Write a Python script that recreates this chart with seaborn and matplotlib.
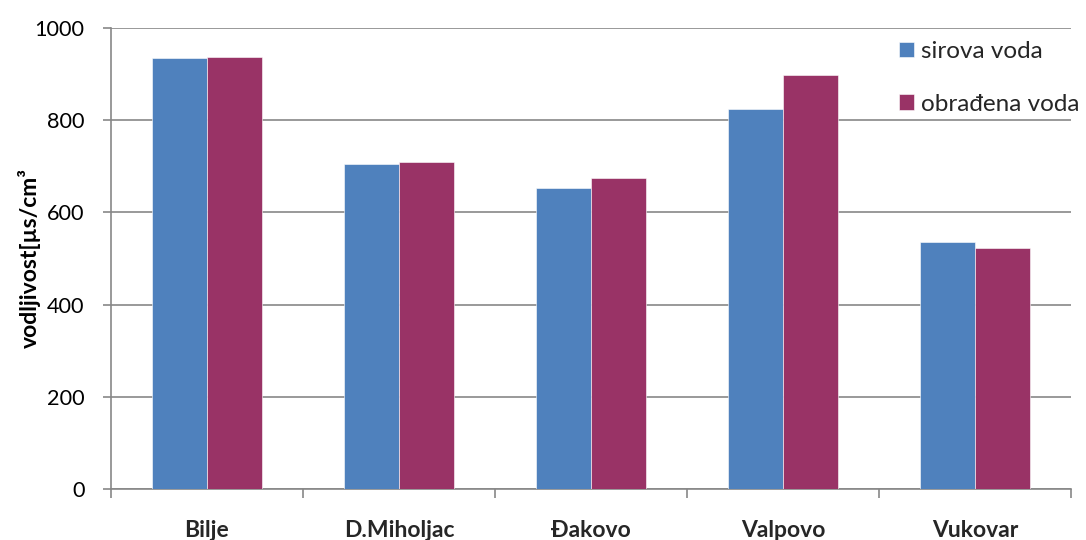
import matplotlib
matplotlib.use("Agg")
import matplotlib.pyplot as plt
import seaborn as sns
import pandas as pd
from matplotlib.ticker import FixedLocator

categories = ["Bilje", "D.Miholjac", "Đakovo", "Valpovo", "Vukovar"]
sirova = [936, 706, 654, 825, 535]
obradjena = [938, 709, 675, 899, 522]
series_names = ["sirova voda", "obrađena voda"]
y_ticks = [0, 200, 400, 600, 800, 1000]
y_label = "vodljivost[µs/cm³"

df = pd.DataFrame({
    "mjesto": categories * 2,
    "vrijednost": sirova + obradjena,
    "serija": [series_names[0]] * len(categories) + [series_names[1]] * len(categories),
})

sns.set_theme(style="white")
plt.rcParams["font.family"] = ["Lato", "DejaVu Sans"]

fig = plt.figure(figsize=(10.86, 5.40), dpi=100)
ax = fig.add_axes([111/1086, 1-489/540, (1071-111)/1086, (489-28)/540])

grid_c = "#878787"
palette = {series_names[0]: "#4F81BD", series_names[1]: "#993366"}
sns.barplot(data=df, x="mjesto", y="vrijednost", hue="serija", order=categories,
            hue_order=series_names, palette=palette, width=0.573, gap=0,
            saturation=1, edgecolor="white", linewidth=0.4, ax=ax, zorder=3)

ax.set_xlim(-0.5, len(categories) - 0.5)
ax.set_ylim(0, 1000)
ax.set_yticks(y_ticks)
ax.yaxis.grid(True, color=grid_c, linewidth=1.2, zorder=0)
ax.set_axisbelow(True)

for s in ["top", "right"]:
    ax.spines[s].set_visible(False)
for s in ["left", "bottom"]:
    ax.spines[s].set_color(grid_c)
    ax.spines[s].set_linewidth(1.2)

ax.tick_params(axis="y", direction="out", length=6, width=1.2, color=grid_c,
               labelsize=15.6, pad=13, left=True, labelcolor="black")
ax.tick_params(axis="x", which="major", length=0, labelsize=16.5, pad=22)
ax.xaxis.set_minor_locator(FixedLocator([i - 0.5 for i in range(len(categories) + 1)]))
ax.tick_params(axis="x", which="minor", direction="out", length=6.5, width=1.2,
               color=grid_c, bottom=True)
for lbl in ax.get_xticklabels():
    lbl.set_fontweight("bold")

ax.set_xlabel("")
ax.set_ylabel(y_label, fontsize=16.5, fontweight="bold", color="black")
ax.yaxis.set_label_coords(-0.073, 0.5)

handles, labels = ax.get_legend_handles_labels()
ax.legend(handles, labels, loc="upper left", bbox_to_anchor=(899/1086, 1-41/540),
          bbox_transform=fig.transFigure, frameon=False, fontsize=17.5,
          handlelength=0.62, handleheight=0.62, handletextpad=0.3,
          labelspacing=1.3, borderpad=0, borderaxespad=0)

fig.savefig("out.png", dpi=100, facecolor="white")
